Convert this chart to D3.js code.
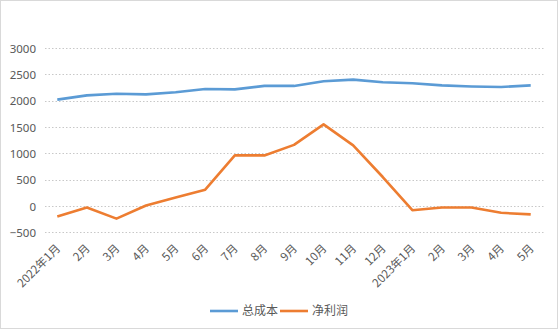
<!DOCTYPE html>
<html>
<head>
<meta charset="utf-8">
<script src="https://cdn.jsdelivr.net/npm/d3@7"></script>
<style>
  html, body { margin: 0; padding: 0; background: #fff; }
  svg { display: block; }
  text { font-family: "Noto Sans CJK SC", "Noto Sans", sans-serif; fill: #595959; }
</style>
</head>
<body>
<svg id="chart" width="560" height="332"></svg>
<script>
// Monthly categories, Jan 2022 – May 2023
const months = ["2022年1月", "2月", "3月", "4月", "5月", "6月", "7月", "8月", "9月", "10月", "11月", "12月",
                "2023年1月", "2月", "3月", "4月", "5月"];
const totalCost = [2020, 2100, 2130, 2120, 2160, 2220, 2215, 2280, 2280, 2370, 2400, 2350,
                   2330, 2290, 2270, 2260, 2290];
const netProfit = [-200, -30, -240, 10, 160, 310, 960, 960, 1160, 1550, 1150, 550,
                   -80, -30, -30, -130, -160];
const yTicks = [-500, 0, 500, 1000, 1500, 2000, 2500, 3000];
const seriesNames = ["总成本", "净利润"];
const seriesColors = ["#5B9BD5", "#ED7D31"];

const svg = d3.select("#chart");
const W = 560, H = 332;

// Outer chart frame
svg.append("rect")
  .attr("x", 0.5).attr("y", 0.5)
  .attr("width", W - 3).attr("height", H - 4)
  .attr("fill", "#fff").attr("stroke", "#d9d9d9");

const plot = { left: 42.5, right: 545.5, top: 48, bottom: 232.3 };

const x = d3.scaleBand()
  .domain(months.map((m, i) => i))
  .range([plot.left, plot.right]);
const y = d3.scaleLinear()
  .domain([-500, 3000])
  .range([plot.bottom, plot.top]);

// Horizontal dotted gridlines
svg.append("g")
  .selectAll("line")
  .data(yTicks)
  .join("line")
  .attr("x1", 45).attr("x2", 545)
  .attr("y1", d => Math.round(y(d)) + 0.5)
  .attr("y2", d => Math.round(y(d)) + 0.5)
  .attr("stroke", "#c8c8c8")
  .attr("stroke-dasharray", "1.5,2");

// Y axis labels
const yAxis = d3.axisLeft(y).tickValues(yTicks).tickFormat(d3.format("d")).tickSize(0).tickPadding(0);
const gy = svg.append("g")
  .attr("transform", "translate(36,0)")
  .call(yAxis);
gy.select(".domain").remove();
gy.selectAll("text")
  .attr("font-size", 11.5)
  .attr("dy", "0.35em")
  .style("font-family", "\"Noto Sans\", sans-serif")
  .attr("fill", "#595959");

// X axis labels, rotated
const xAxis = d3.axisBottom(x).tickFormat(i => months[i]).tickSize(0).tickPadding(0);
const gx = svg.append("g")
  .attr("transform", `translate(0,${plot.bottom})`)
  .call(xAxis);
gx.select(".domain").remove();
gx.selectAll("text")
  .attr("font-size", 11.5)
  .attr("text-anchor", "end")
  .attr("dy", "0.35em")
  .attr("transform", "translate(1,14) rotate(-45)")
  .attr("fill", "#595959");

// Lines
const cx = i => x(i) + x.bandwidth() / 2;
[totalCost, netProfit].forEach((vals, s) => {
  const line = d3.line()
    .x((d, i) => cx(i))
    .y(d => y(d));
  svg.append("path")
    .datum(vals)
    .attr("fill", "none")
    .attr("stroke", seriesColors[s])
    .attr("stroke-width", 2.6)
    .attr("stroke-linejoin", "round")
    .attr("d", line);
});

// Legend
const legend = svg.append("g").attr("transform", "translate(0,311)");
const legendX = [210, 280];
seriesNames.forEach((name, s) => {
  const g = legend.append("g").attr("transform", `translate(${legendX[s]},0)`);
  g.append("line")
    .attr("x1", 0).attr("x2", 28)
    .attr("stroke", seriesColors[s])
    .attr("stroke-width", 2.6);
  g.append("text")
    .attr("x", 32).attr("dy", "0.35em")
    .attr("font-size", 12)
    .text(name);
});
</script>
</body>
</html>
